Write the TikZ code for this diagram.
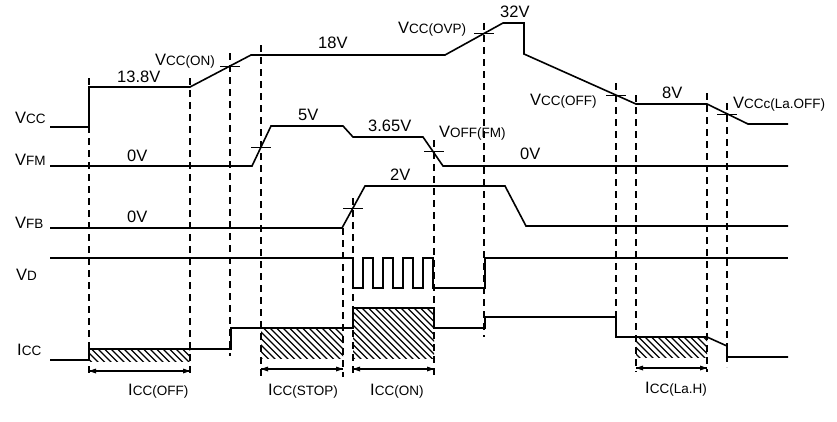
\documentclass[tikz,border=0pt]{standalone}
\usepackage{fontspec}
\setmainfont{Liberation Sans}

\newcommand\sigtxt[2]{#1{\fontsize{13.5}{13.5}\selectfont #2}}

\tikzset{
  sig/.style={line width=1.6pt},
  guide/.style={line width=1.4pt, dash pattern=on 7pt off 5pt},
  tickmark/.style={line width=0.9pt},
  dimline/.style={line width=1.5pt},
  hatchline/.style={line width=1.4pt},
  lbl/.style={anchor=base west, inner sep=0pt, font=\fontsize{16.5}{18}\selectfont},
}

\begin{document}
\begin{tikzpicture}[x=1pt,y=-1pt]
\useasboundingbox (0,0) rectangle (837,421);

\coordinate (offl) at (89,371);   \coordinate (offr) at (190,371);
\coordinate (stopl) at (261,369); \coordinate (stopr) at (343,369);
\coordinate (onl) at (353,369);   \coordinate (onr) at (434,369);
\coordinate (lahl) at (636,368);  \coordinate (lahr) at (707,368);
\draw[dimline] (offl) -- (offr);
\draw[dimline] (stopl) -- (stopr);
\draw[dimline] (onl) -- (onr);
\draw[dimline] (lahl) -- (lahr);
\fill (offl) -- ++(7,-2.5) -- ++(0,5) -- cycle;
\fill (offr) -- ++(-7,-2.5) -- ++(0,5) -- cycle;
\fill (stopl) -- ++(7,-2.5) -- ++(0,5) -- cycle;
\fill (stopr) -- ++(-7,-2.5) -- ++(0,5) -- cycle;
\fill (onl) -- ++(7,-2.5) -- ++(0,5) -- cycle;
\fill (onr) -- ++(-7,-2.5) -- ++(0,5) -- cycle;
\fill (lahl) -- ++(7,-2.5) -- ++(0,5) -- cycle;
\fill (lahr) -- ++(-7,-2.5) -- ++(0,5) -- cycle;

\foreach \x/\a/\b in {89/78/377, 190/78/377, 230/53/356, 261/45/380, 343/228/377,
  353/198/377, 434/140/377, 484/23/337, 616/83/337, 636/95/372, 707/93/372, 727/103/367}
  \draw[guide] (\x,\a) -- (\x,\b);

\foreach \xa/\ya/\xb/\yb in {89/349/190/361, 261/328/343/358, 353/308/434/358, 636/337/707/357} {
  \begin{scope}
    \clip (\xa,\ya) rectangle (\xb,\yb);
    \foreach \k in {-56,-49.5,...,104}
      \draw[hatchline] (\xa+\k,\ya) -- ++(60,60);
  \end{scope}
}

\draw[sig] (50,127) -- (89,127) -- (89,87) -- (190,87) -- (251,55) -- (445,55)
  -- (503,23) -- (524,23) -- (524,54) -- (636,104) -- (707,104) -- (748,124) -- (788,124);
\draw[sig] (50,166) -- (252,166) -- (271,126) -- (343,126) -- (353,137) -- (423,137)
  -- (443,166) -- (788,166);
\draw[sig] (50,228) -- (342,228) -- (365,186) -- (505,186) -- (526,226) -- (788,226);
\draw[sig] (50,258) -- (353,258)
  \foreach \t in {353,373,393,413} {-- (\t,288) -- (\t+10,288) -- (\t+10,258) -- (\t+20,258)}
  -- (433,288) -- (485,288) -- (485,258) -- (788,258);
\draw[sig] (50,360) -- (89,360) -- (89,349) -- (231,349) -- (231,328) -- (353,328)
  -- (353,308) -- (434,308) -- (434,328) -- (485,328) -- (485,317) -- (616,317)
  -- (616,337) -- (707,337) -- (727,346) -- (727,357) -- (788,357);

\foreach \x/\y in {230/66, 484/33, 261/147, 434/151, 353/208, 616/95, 727/114}
  \draw[tickmark] (\x-10,\y) -- (\x+10,\y);

\node[lbl] (vcc) at (15,123) {\sigtxt{V}{CC}};
\node[lbl] (vfm) at (15,165) {\sigtxt{V}{FM}};
\node[lbl] (vfb) at (15,228) {\sigtxt{V}{FB}};
\node[lbl] (vd)  at (16,280) {\sigtxt{V}{D}};
\node[lbl] (icc) at (17,355) {\sigtxt{I}{CC}};

\node[lbl] (v138)  at (117,82)  {13.8V};
\node[lbl] (vccon) at (155,65)  {\sigtxt{V}{CC(ON)}};
\node[lbl] (v18)   at (318,48)  {18V};
\node[lbl] (vovp)  at (398,33)  {\sigtxt{V}{CC(OVP)}};
\node[lbl] (v32)   at (500,17)  {32V};
\node[lbl] (vccoff) at (530,105) {\sigtxt{V}{CC(OFF)}};
\node[lbl] (v8)    at (662,98)  {8V};
\node[lbl] (vlaoff) at (733,108) {\sigtxt{V}{CCc(La.OFF)}};
\node[lbl] (fm0)   at (127,161) {0V};
\node[lbl] (v5)    at (298,120) {5V};
\node[lbl] (v365)  at (368,131) {3.65V};
\node[lbl] (voff)  at (439,137) {\sigtxt{V}{OFF(FM)}};
\node[lbl] (fm0b)  at (520,159) {0V};
\node[lbl] (fb0)   at (127,222) {0V};
\node[lbl] (v2)    at (390,180) {2V};

\node[lbl] (ioff)  at (128,395) {\sigtxt{I}{CC(OFF)}};
\node[lbl] (istop) at (268,395) {\sigtxt{I}{CC(STOP)}};
\node[lbl] (ion)   at (370,395) {\sigtxt{I}{CC(ON)}};
\node[lbl] (ilah)  at (645,393) {\sigtxt{I}{CC(La.H)}};
\end{tikzpicture}
\end{document}
